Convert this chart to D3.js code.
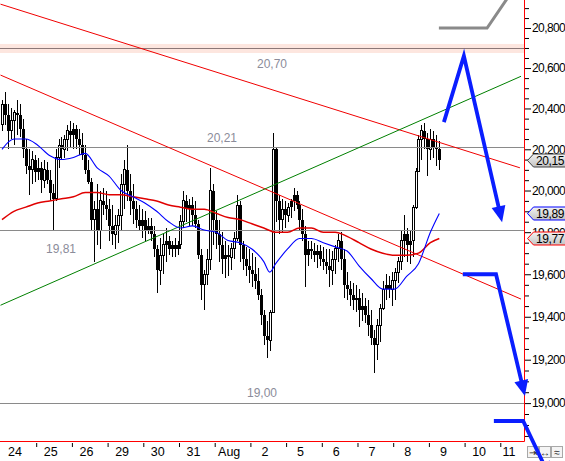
<!DOCTYPE html>
<html><head><meta charset="utf-8">
<script src="https://cdn.jsdelivr.net/npm/d3@7"></script>
<style>html,body{margin:0;padding:0;background:#fff;overflow:hidden}svg text{font-family:"Liberation Sans",Arial,sans-serif}</style>
</head><body>
<svg id="c" width="565" height="461"></svg>
<script>
// ---------- data ----------
const dayLabels = ["24","25","26","29","30","31","Aug","2","5","6","7","8","9","10","11"];
const barsPerDay = 12;
const firstOpen = 20.32;
const highs = [
20.44,20.48,20.42,20.40,20.39,20.44,20.42,20.35,20.25,20.20,
20.19,20.17,20.16,20.14,20.15,20.14,20.10,20.03,20.20,20.25,
20.26,20.27,20.32,20.34,20.33,20.32,20.30,20.28,20.22,20.15,
20.06,19.95,20.03,20.00,20.01,20.00,19.96,19.93,19.88,19.91,
20.08,20.15,20.22,20.08,20.03,19.95,19.93,19.91,19.90,19.87,
19.87,19.83,19.74,19.77,19.79,19.82,19.78,19.76,19.77,19.76,
19.88,20.00,19.98,19.96,19.97,19.95,19.86,19.72,19.62,19.72,
20.11,20.03,19.90,19.86,19.80,19.76,19.74,19.75,19.80,19.98,
19.95,19.76,19.73,19.72,19.70,19.68,19.63,19.53,19.43,19.38,
19.43,20.28,20.21,19.98,19.96,19.95,19.94,19.96,20.01,20.00,
19.95,19.91,19.83,19.76,19.76,19.75,19.74,19.74,19.73,19.72,
19.72,19.71,19.74,19.79,19.80,19.72,19.61,19.57,19.56,19.55,
19.53,19.51,19.49,19.48,19.43,19.34,19.39,19.46,19.57,19.60,
19.59,19.61,19.63,19.68,19.81,19.88,19.82,19.81,19.93,20.11,
20.27,20.32,20.33,20.28,20.30,20.29,20.27,20.24];
const lows = [
20.29,20.32,20.20,20.25,20.22,20.27,20.26,20.16,20.08,19.98,
20.03,20.04,20.05,19.99,20.01,20.03,19.95,19.81,19.95,20.11,
20.15,20.16,20.19,20.21,20.20,20.20,20.17,20.15,20.08,20.03,
19.81,19.66,19.74,19.72,19.88,19.86,19.76,19.74,19.72,19.75,
19.81,19.91,19.95,19.88,19.84,19.82,19.81,19.77,19.76,19.79,
19.76,19.68,19.51,19.55,19.60,19.66,19.69,19.68,19.68,19.69,
19.72,19.82,19.85,19.83,19.83,19.82,19.67,19.48,19.43,19.55,
19.62,19.74,19.72,19.66,19.60,19.58,19.59,19.62,19.67,19.76,
19.66,19.62,19.59,19.56,19.54,19.53,19.48,19.36,19.27,19.21,
19.24,19.42,19.85,19.79,19.80,19.82,19.85,19.87,19.90,19.91,
19.81,19.76,19.54,19.64,19.67,19.66,19.63,19.64,19.62,19.60,
19.54,19.55,19.60,19.66,19.62,19.49,19.48,19.45,19.43,19.42,
19.35,19.38,19.37,19.31,19.27,19.14,19.20,19.28,19.43,19.48,
19.49,19.45,19.48,19.56,19.62,19.68,19.66,19.65,19.68,19.91,
20.09,20.15,20.20,20.07,20.15,20.16,20.12,20.10];
const closes = [
20.42,20.37,20.29,20.34,20.38,20.37,20.30,20.20,20.12,20.10,
20.15,20.09,20.11,20.05,20.10,20.05,19.99,19.96,20.16,20.22,
20.20,20.25,20.29,20.27,20.30,20.25,20.22,20.17,20.10,20.04,
19.86,19.91,19.81,19.95,19.93,19.91,19.83,19.79,19.83,19.88,
20.03,20.10,20.00,19.95,19.91,19.86,19.83,19.86,19.81,19.83,
19.79,19.72,19.62,19.69,19.74,19.76,19.72,19.74,19.72,19.74,
19.85,19.95,19.91,19.93,19.88,19.84,19.69,19.55,19.60,19.67,
20.00,19.86,19.79,19.74,19.67,19.69,19.68,19.72,19.77,19.93,
19.74,19.67,19.64,19.62,19.60,19.57,19.50,19.41,19.31,19.29,
19.42,20.20,19.95,19.86,19.91,19.88,19.92,19.95,19.98,19.93,
19.86,19.79,19.69,19.72,19.71,19.69,19.71,19.67,19.66,19.64,
19.62,19.67,19.72,19.76,19.67,19.55,19.53,19.50,19.48,19.49,
19.43,19.45,19.41,19.36,19.30,19.27,19.36,19.44,19.53,19.55,
19.53,19.57,19.61,19.66,19.76,19.79,19.74,19.76,19.92,20.09,
20.25,20.29,20.25,20.20,20.25,20.21,20.20,20.15];

const blueIdx = [0,4,8,12,16,20,24,28,32,36,40,44,48,52,56,60,64,68,72,76,80,84,88,90,92,96,100,104,108,112,116,120,124,128,132,136,140,144,147];
const blueMA  = [20.20,20.25,20.25,20.22,20.17,20.15,20.16,20.18,20.11,20.07,20.00,19.97,19.94,19.90,19.85,19.82,19.83,19.81,19.80,19.76,19.75,19.72,19.66,19.61,19.65,19.72,19.77,19.77,19.75,19.73,19.71,19.64,19.58,19.53,19.53,19.59,19.65,19.80,19.89];
const redIdx = [0,4,8,12,16,20,24,28,32,36,40,44,48,52,56,60,64,68,72,76,80,84,88,92,96,100,104,108,112,116,120,124,128,132,136,140,144,147];
const redMA  = [19.86,19.90,19.92,19.94,19.95,19.96,19.97,19.99,19.99,19.98,19.98,19.97,19.96,19.95,19.93,19.92,19.91,19.91,19.89,19.87,19.86,19.84,19.82,19.80,19.80,19.82,19.82,19.80,19.80,19.78,19.75,19.72,19.70,19.69,19.69,19.70,19.75,19.77];

const levels = [20.70, 20.21, 19.81, 19.00];
const levelNames = ["20,70","20,21","19,81","19,00"];
const bandLow = 20.675, bandHigh = 20.72;

// trend lines: [day, price] endpoints
const redTrendUpper = [[0, 20.92], [14.55, 20.11]];
const redTrendLower = [[0, 20.565], [14.58, 19.483]];
const greenTrend    = [[0, 19.454], [14.58, 20.559]];

// projection paths
const arrow1 = [[12.42, 20.333], [12.98, 20.66], [14.05, 19.848]];
const arrow2 = [[12.95, 19.60], [13.88, 19.60], [14.69, 19.032]];
const arrow3 = [[13.82, 18.918], [14.64, 18.918], [15.40, 18.66]];
const grayPath = [[12.28, 20.80], [13.63, 20.80], [14.35, 20.99]];

const yTicks = [19.0,19.2,19.4,19.6,19.8,20.0,20.2,20.4,20.6,20.8];
const tags = [
  {v: 20.15, stroke: "#404040"},
  {v: 19.89, stroke: "#0000ff"},
  {v: 19.77, stroke: "#ff0000"}
];

// ---------- chart ----------
const W = 565, H = 461, PR = 524, PB = 441;
const svg = d3.select("#c");
const x = d3.scaleLinear().domain([0, 14.678]).range([0.5, 524.5]);
const y = d3.scaleLog().domain([18.827, 20.941]).range([PB, 0]);
const fmt = v => v.toFixed(3).replace(".", ",");
const fmt2 = v => v.toFixed(2).replace(".", ",");

const defs = svg.append("defs");
defs.append("clipPath").attr("id","plot").append("rect").attr("x",0).attr("y",0).attr("width",PR).attr("height",PB);
const gr = defs.append("linearGradient").attr("id","tagfill").attr("x1",0).attr("y1",0).attr("x2",0).attr("y2",1);
gr.append("stop").attr("offset","0%").attr("stop-color","#f2f2f2");
gr.append("stop").attr("offset","100%").attr("stop-color","#c4c4c4");

const plot = svg.append("g").attr("clip-path","url(#plot)");

// band at 20.70
plot.append("rect").attr("x",0).attr("width",PR)
  .attr("y", y(bandHigh)).attr("height", y(bandLow)-y(bandHigh))
  .attr("fill","#fde6df");

// candles
const bars = d3.range(highs.length).map(i => ({
  d: (i + 0.5) / barsPerDay,
  h: highs[i], l: lows[i], c: closes[i],
  o: i === 0 ? firstOpen : closes[i-1]
}));
const cg = plot.append("g").attr("shape-rendering","crispEdges");
bars.forEach(b => {
  const cx = Math.round(x(b.d));
  const top = Math.min(y(b.o), y(b.c)), bot = Math.max(y(b.o), y(b.c));
  const hollow = b.c >= b.o && (bot - top) > 8;
  cg.append("line").attr("x1",cx+0.5).attr("x2",cx+0.5).attr("y1",y(b.h)).attr("y2",hollow ? top : y(b.l)).attr("stroke","#000");
  if (hollow) {
    cg.append("line").attr("x1",cx+0.5).attr("x2",cx+0.5).attr("y1",bot).attr("y2",y(b.l)).attr("stroke","#000");
    cg.append("rect").attr("x",cx-0.5).attr("y",top).attr("width",2).attr("height",bot-top)
      .attr("fill","#fff").attr("stroke","#000").attr("stroke-width",1);
  } else {
    cg.append("rect").attr("x",cx-1).attr("y",top).attr("width",3).attr("height",Math.max(2,bot-top)).attr("fill","#000");
  }
});

// level lines
levels.forEach((v,i) => {
  plot.append("line").attr("x1",0).attr("x2",PR).attr("y1",Math.round(y(v))+0.5).attr("y2",Math.round(y(v))+0.5)
    .attr("stroke", i===0 ? "#8c7878" : "#8a8a8a").attr("stroke-width",1.2);
});

// level labels
const labelPos = [[272, 68], [222, 142], [61, 253], [262, 397]];
levelNames.forEach((t,i) => {
  svg.append("text").attr("x",labelPos[i][0]).attr("y",labelPos[i][1]).attr("text-anchor","middle")
    .attr("font-size",12).attr("fill","#8b8c9a").text(t);
});

// trend lines
const ln = d3.line().x(p => x(p[0])).y(p => y(p[1]));
plot.append("path").attr("d", ln(redTrendUpper)).attr("stroke","#f00000").attr("fill","none").attr("stroke-width",1);
plot.append("path").attr("d", ln(redTrendLower)).attr("stroke","#f00000").attr("fill","none").attr("stroke-width",1);
plot.append("path").attr("d", ln(greenTrend)).attr("stroke","#008000").attr("fill","none").attr("stroke-width",1);

// moving averages
const maLine = d3.line().curve(d3.curveMonotoneX).x(p => x((p[0]+0.5)/barsPerDay)).y(p => y(p[1]));
plot.append("path").attr("d", maLine(redIdx.map((k,i)=>[k, redMA[i]]))).attr("stroke","#e00000").attr("fill","none").attr("stroke-width",1.5);
plot.append("path").attr("d", maLine(blueIdx.map((k,i)=>[k, blueMA[i]]))).attr("stroke","#0000ff").attr("fill","none").attr("stroke-width",1.1);

// plot frame (red)
svg.append("line").attr("x1",PR+0.5).attr("x2",PR+0.5).attr("y1",0).attr("y2",PB+0.5).attr("stroke","#ff0000");
svg.append("line").attr("x1",0).attr("x2",PR+0.5).attr("y1",PB+0.5).attr("y2",PB+0.5).attr("stroke","#ff0000");

// right axis
const minor = d3.range(18.85, 20.94, 0.05).map(v => +v.toFixed(2)).filter(v => Math.abs(v*5 - Math.round(v*5)) > 1e-6);
const ax = svg.append("g").attr("transform",`translate(${PR+1},0)`);
ax.call(d3.axisRight(y).tickValues(minor).tickSize(4).tickFormat(""));
ax.call(g => g.select(".domain").remove());
const ax2 = svg.append("g").attr("transform",`translate(${PR+1},0)`);
ax2.call(d3.axisRight(y).tickValues(yTicks).tickSize(6).tickPadding(1).tickFormat(fmt));
ax2.call(g => g.select(".domain").remove());
ax2.selectAll("text").attr("font-size",12).attr("letter-spacing","-0.6px").attr("fill","#000").attr("font-family","Liberation Sans, Arial, sans-serif");
svg.selectAll(".tick line").attr("stroke","#000");

// bottom axis
const bx = svg.append("g").attr("transform",`translate(0,${PB+2})`);
bx.call(d3.axisBottom(x).tickValues(d3.range(1,15)).tickSize(4).tickFormat(""));
bx.call(g => g.select(".domain").remove());
bx.selectAll("line").attr("stroke","#000");
dayLabels.forEach((t,k) => {
  svg.append("text").attr("x", Math.min(x(k)+14.5, 509)).attr("y",456).attr("text-anchor","middle")
    .attr("font-size",12.5).attr("fill","#000").text(t);
});

// price tags
tags.forEach(t => {
  const yy = Math.round(y(t.v)) + 0.5;
  svg.append("path").attr("d", `M${PR+3.5},${yy} L${PR+9.5},${yy-6.5} L${W+2},${yy-6.5} L${W+2},${yy+6.5} L${PR+9.5},${yy+6.5} Z`)
    .attr("fill","url(#tagfill)").attr("stroke",t.stroke).attr("stroke-width",1);
  svg.append("text").attr("x",PR+12).attr("y",yy+4.5).attr("font-size",12).attr("letter-spacing","-0.4px").attr("fill","#000").text(fmt2(t.v));
});

// small icons at bottom right
[["\u21E5",527],["\u2194",539],["\u2248",551]].forEach(([g,xx]) => {
  svg.append("rect").attr("x",xx+0.5).attr("y",446.5).attr("width",11).attr("height",11).attr("fill","#f4f4f4").attr("stroke","#a8a8a8");
  svg.append("text").attr("x",xx+6).attr("y",455.5).attr("text-anchor","middle").attr("font-size",10).attr("fill","#222").text(g);
});

// projection arrows
function arrowHead(p0, p1, color, len, wid) {
  const x0 = x(p0[0]), y0 = y(p0[1]), x1 = x(p1[0]), y1 = y(p1[1]);
  const dx = x1-x0, dy = y1-y0, L = Math.hypot(dx,dy), ux = dx/L, uy = dy/L;
  const bx_ = x1 - ux*len, by_ = y1 - uy*len;
  svg.append("path").attr("d", `M${x1},${y1} L${bx_ - uy*wid/2},${by_ + ux*wid/2} L${bx_ + uy*wid/2},${by_ - ux*wid/2} Z`).attr("fill",color);
}
function shortened(pts, cut) {
  const n = pts.length, a = pts[n-2], b = pts[n-1];
  const xa = x(a[0]), ya = y(a[1]), xb = x(b[0]), yb = y(b[1]);
  const L = Math.hypot(xb-xa, yb-ya);
  const f = (L-cut)/L;
  return pts.slice(0,n-1).map(p => [x(p[0]), y(p[1])]).concat([[xa+(xb-xa)*f, ya+(yb-ya)*f]]);
}
const pl = d3.line();
const blue = "#0a1eff";
[arrow1, arrow2, arrow3].forEach(a => {
  svg.append("path").attr("d", pl(shortened(a, 10))).attr("stroke",blue).attr("stroke-width",3.8)
    .attr("fill","none").attr("stroke-linejoin","miter");
  arrowHead(a[a.length-2], a[a.length-1], blue, 16, 14);
});
svg.append("path").attr("d", ln(grayPath)).attr("stroke","#8a8a8a").attr("stroke-width",3).attr("fill","none");
</script>
</body></html>
